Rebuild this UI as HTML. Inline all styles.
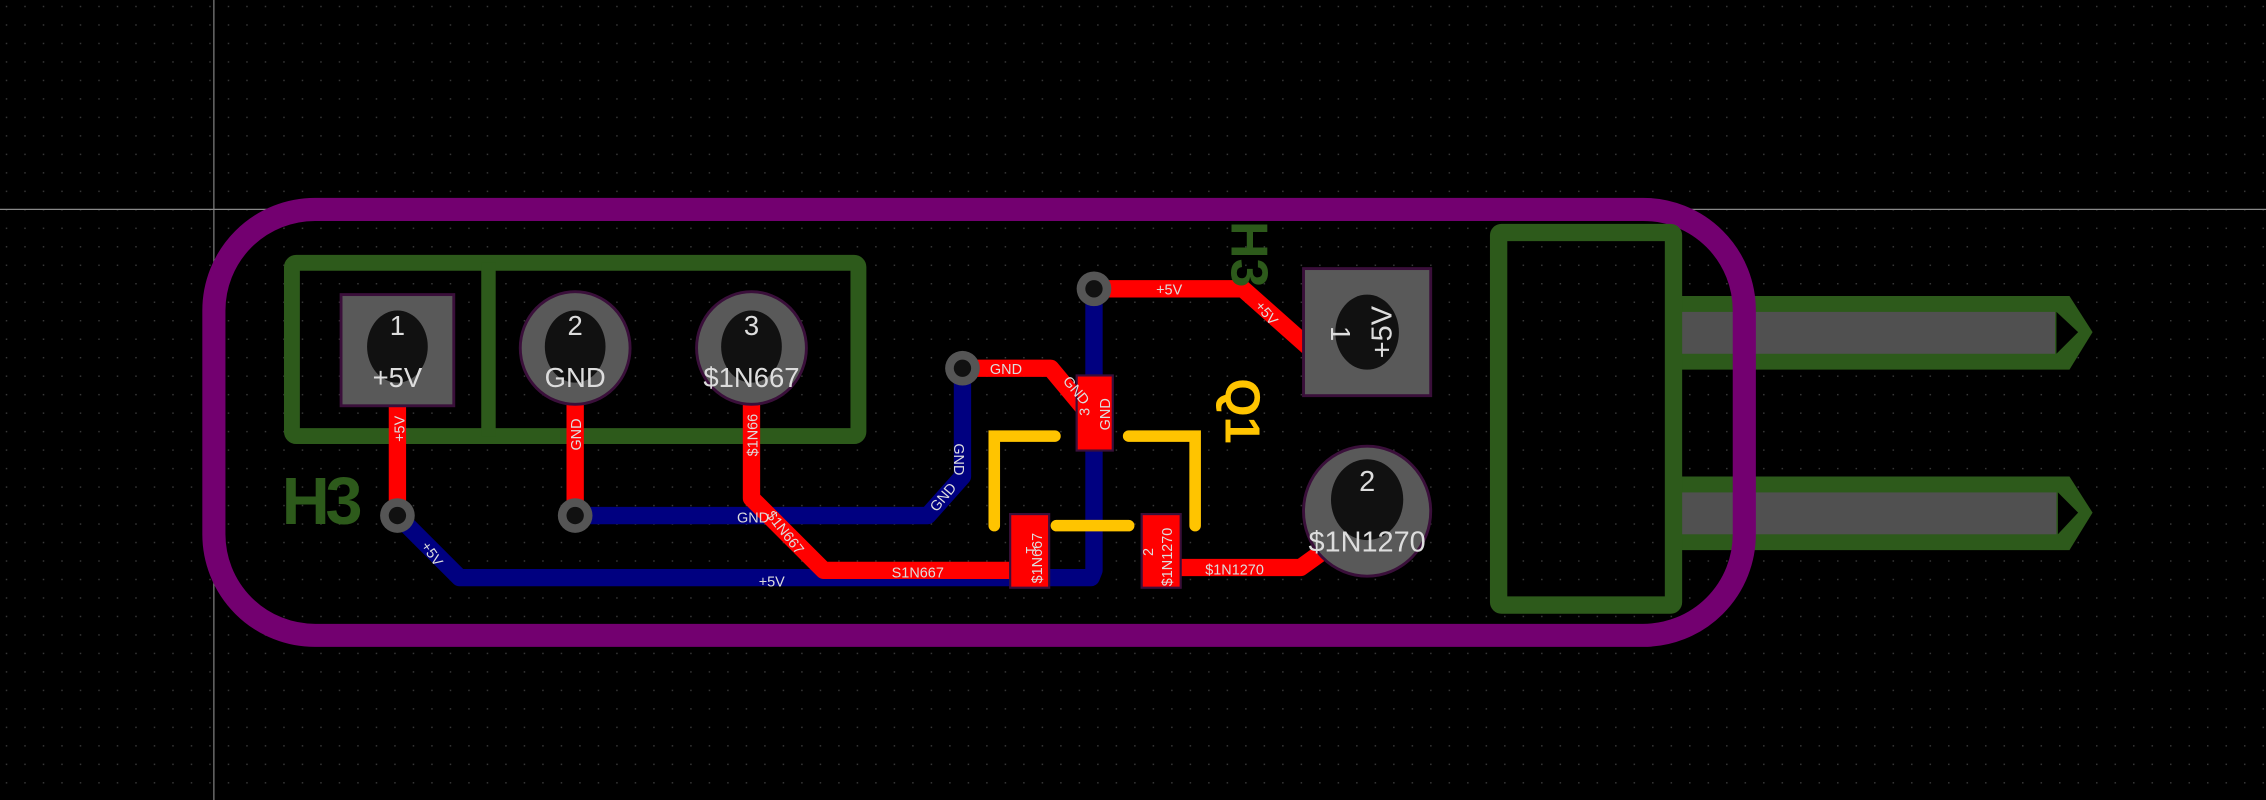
<!DOCTYPE html>
<html><head><meta charset="utf-8"><style>html,body{margin:0;padding:0;background:#000;overflow:hidden}svg{display:block}text{font-family:"Liberation Sans",sans-serif}</style></head>
<body>
<svg width="2266" height="800" viewBox="0 0 1568 554" preserveAspectRatio="none" xmlns="http://www.w3.org/2000/svg">
<defs><pattern id="g" width="12.8" height="12.8" patternUnits="userSpaceOnUse" x="4" y="4"><rect width="1" height="1" fill="#3a3a3a"/></pattern></defs>
<rect width="1568" height="554" fill="#000"/>
<rect width="1568" height="554" fill="url(#g)"/>
<line x1="148" y1="0" x2="148" y2="554" stroke="#888" stroke-width="0.8"/>
<line x1="0" y1="145" x2="1568" y2="145" stroke="#888" stroke-width="0.8"/>

<g>
<polygon points="1160,205 1432,205 1448,230 1432,256 1160,256" fill="#2d5a1b"/>
<rect x="1163" y="216" width="259" height="29" fill="#505050"/>
<polygon points="1423,216 1438,230 1423,245" fill="#000"/>
<polygon points="1160,330 1432,330 1448,355 1432,381 1160,381" fill="#2d5a1b"/>
<rect x="1163" y="341" width="260" height="29" fill="#505050"/>
<polygon points="1424,341 1438,355 1424,370" fill="#000"/>
</g>
<rect x="148" y="145" width="1059" height="295" rx="70" ry="70" fill="none" stroke="#730070" stroke-width="16"/>
<rect x="1037" y="161" width="121" height="258" fill="none" stroke="#2d5a1b" stroke-width="12" rx="2"/>
<rect x="202" y="182" width="392" height="120" fill="none" stroke="#2d5a1b" stroke-width="11" rx="3"/>
<line x1="338" y1="182" x2="338" y2="302" stroke="#2d5a1b" stroke-width="10"/>
<text x="195" y="363" font-size="46" font-weight="bold" fill="#2d5a1b" letter-spacing="-3">H3</text>

<g fill="none" stroke="#000080" stroke-width="12" stroke-linejoin="round">
<polyline points="275,357 318,400 755,400 757,395 757,200"/>
<polyline points="398,357 642,357 666,330 666,255"/>
</g>
<g fill="none" stroke="#ff0000" stroke-width="12" stroke-linejoin="round">
<line x1="275" y1="280" x2="275" y2="357"/>
<line x1="398" y1="280" x2="398" y2="357"/>
<polyline points="520,280 520,345 570,395 705,395"/>
<polyline points="666,255 727,255 752,285"/>
<polyline points="757,200 860,200 905,240"/>
<polyline points="810,393 900,393 918,380"/>
</g>
<g fill="#555"><circle cx="275" cy="357" r="12"/><circle cx="398" cy="357" r="12"/><circle cx="666" cy="255" r="12"/><circle cx="757" cy="200" r="12"/></g>
<g fill="#111"><circle cx="275" cy="357" r="6"/><circle cx="398" cy="357" r="6"/><circle cx="666" cy="255" r="6"/><circle cx="757" cy="200" r="6"/></g>

<rect x="236" y="204" width="78" height="77" fill="#595959" stroke="#3a0f3a" stroke-width="2"/>
<ellipse cx="275" cy="240" rx="21" ry="25" fill="#111"/>
<ellipse cx="398" cy="241" rx="38" ry="39" fill="#595959" stroke="#3a0f3a" stroke-width="2"/>
<ellipse cx="398" cy="240" rx="21" ry="25" fill="#111"/>
<ellipse cx="520" cy="241" rx="38" ry="39" fill="#595959" stroke="#3a0f3a" stroke-width="2"/>
<ellipse cx="520" cy="240" rx="21" ry="25" fill="#111"/>
<g fill="#ddd" font-size="19" text-anchor="middle">
<text x="275" y="232">1</text><text x="275" y="268">+5V</text>
<text x="398" y="232">2</text><text x="398" y="268">GND</text>
<text x="520" y="232">3</text><text x="520" y="268">$1N667</text>
</g>

<g fill="none" stroke="#ffc400" stroke-width="8" stroke-linecap="round">
<polyline points="730,302 688,302 688,364"/>
<polyline points="781,302 827,302 827,364"/>
<line x1="731" y1="364" x2="781" y2="364"/>
</g>
<text x="0" y="0" font-size="34" font-weight="bold" fill="#ffc400" transform="translate(848,262) rotate(90)">Q1</text>
<text x="0" y="0" font-size="36" font-weight="bold" fill="#2d5a1b" transform="translate(852,153) rotate(90)">H3</text>

<rect x="699" y="356" width="27" height="51" fill="#ff0000" stroke="#3a0f3a" stroke-width="1.5"/>
<rect x="790" y="356" width="27" height="51" fill="#ff0000" stroke="#3a0f3a" stroke-width="1.5"/>
<rect x="745" y="260" width="25" height="52" fill="#ff0000" stroke="#3a0f3a" stroke-width="1.5"/>

<rect x="902" y="186" width="88" height="88" fill="#595959" stroke="#3a0f3a" stroke-width="2"/>
<ellipse cx="946" cy="230" rx="22" ry="26" fill="#111"/>
<text font-size="19" fill="#ddd" text-anchor="middle" transform="translate(921,231) rotate(90)">1</text>
<text font-size="20" fill="#ddd" text-anchor="middle" transform="translate(963,230) rotate(-90)">+5V</text>
<ellipse cx="946" cy="354" rx="44" ry="45" fill="#595959" stroke="#3a0f3a" stroke-width="2"/>
<ellipse cx="946" cy="346" rx="25" ry="28" fill="#111"/>
<text x="946" y="340" font-size="20" fill="#ddd" text-anchor="middle">2</text>
<text x="946" y="382" font-size="20" fill="#ddd" text-anchor="middle">$1N1270</text>

<g fill="#ddd" font-size="10">
<text transform="translate(280,306) rotate(-90)">+5V</text>
<text transform="translate(402,312) rotate(-90)">GND</text>
<text transform="translate(524,316) rotate(-90)">$1N66</text>
<text transform="translate(291,378) rotate(55)">+5V</text>
<text x="525" y="406">+5V</text>
<text x="510" y="362">GND</text>
<text transform="translate(530,357) rotate(52)">$1N667</text>
<text x="617" y="400">S1N667</text>
<text transform="translate(660,307) rotate(90)">GND</text>
<text transform="translate(648,355) rotate(-50)">GND</text>
<text x="685" y="259">GND</text>
<text transform="translate(735,264) rotate(50)">GND</text>
<text transform="translate(754,288) rotate(-90)">3</text>
<text transform="translate(768,298) rotate(-90)">GND</text>
<text transform="translate(710,378) rotate(90)">1</text>
<text transform="translate(721,404) rotate(-90)">$1N667</text>
<text transform="translate(798,385) rotate(-90)">2</text>
<text transform="translate(811,406) rotate(-90)">$1N1270</text>
<text x="834" y="398">$1N1270</text>
<text x="800" y="204">+5V</text>
<text transform="translate(868,212) rotate(50)">+5V</text>
</g>
</svg>
</body></html>
